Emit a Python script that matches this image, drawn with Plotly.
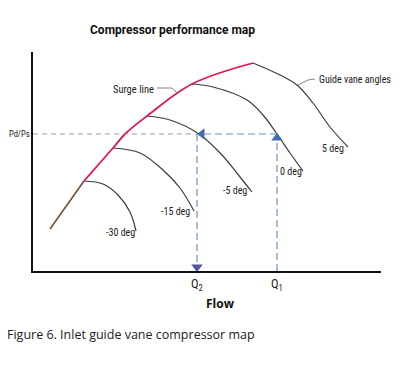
import plotly.graph_objects as go

# ---- data (Flow units, pressure-ratio units; schematic map) ----
surge_brown_x = [17, 51]
surge_brown_y = [42, 90]
surge_red_x = [51, 80, 92, 114, 159, 220]
surge_red_y = [90, 123, 137, 155, 187, 208]

vane_labels = ["-30 deg", "-15 deg", "-5 deg", "0 deg", "5 deg"]
vane_x = [
    [51, 70, 85, 97, 103],
    [80, 107, 130, 147, 161],
    [114, 137, 166, 189, 207, 219],
    [159, 180, 214, 230, 244, 257, 270],
    [220, 247, 264, 280, 297, 315],
]
vane_y = [
    [90, 87, 76, 59, 40],
    [123, 118, 101, 83, 60],
    [155, 151, 137, 116, 94, 79],
    [187, 184, 171, 156, 137, 118, 100],
    [208, 196, 186, 168, 144, 124],
]
vane_label_x = [87, 142, 202, 258, 300]
vane_label_y = [39, 60, 81, 100, 123]

Q1 = 244
Q2 = 164
PdPs = 137
x_ticks = [Q2, Q1]
x_ticktext = ["Q<sub>2</sub>", "Q<sub>1</sub>"]

X_RANGE = [0, 348]
Y_RANGE = [0, 219]

DARK = "#3c3c3c"
RED = "#e0164a"
BROWN = "#7a4a35"
BLUE = "#3f6fae"
BLUE_DASH = "#6f8fc4"
NAVY = "#5353a6"
GRAY = "#9a9a9a"


def px_(x):
    return (x - X_RANGE[0]) / (X_RANGE[1] - X_RANGE[0])


def py_(y):
    return (y - Y_RANGE[0]) / (Y_RANGE[1] - Y_RANGE[0])


fig = go.Figure()

# vane curves
for xs, ys in zip(vane_x, vane_y):
    fig.add_trace(go.Scatter(x=xs, y=ys, mode="lines",
                             line=dict(color=DARK, width=1.2, shape="spline"),
                             hoverinfo="skip"))

# surge line
fig.add_trace(go.Scatter(x=surge_brown_x, y=surge_brown_y, mode="lines",
                         line=dict(color=BROWN, width=1.6), hoverinfo="skip"))
fig.add_trace(go.Scatter(x=surge_red_x, y=surge_red_y, mode="lines",
                         line=dict(color=RED, width=1.8, shape="spline"),
                         hoverinfo="skip"))

# Pd/Ps gray dashed reference
fig.add_trace(go.Scatter(x=[0, Q2], y=[PdPs, PdPs], mode="lines",
                         line=dict(color=GRAY, width=1, dash="5px,4px"),
                         hoverinfo="skip"))
# blue dashed arrows
fig.add_trace(go.Scatter(x=[Q1, Q2 + 8], y=[PdPs, PdPs], mode="lines",
                         line=dict(color=BLUE_DASH, width=1.2, dash="7px,4px"),
                         hoverinfo="skip"))
fig.add_trace(go.Scatter(x=[Q1, Q1], y=[0, PdPs - 8], mode="lines",
                         line=dict(color=BLUE_DASH, width=1.2, dash="7px,4px"),
                         hoverinfo="skip"))
fig.add_trace(go.Scatter(x=[Q2, Q2], y=[PdPs, 8], mode="lines",
                         line=dict(color=BLUE_DASH, width=1.2, dash="7px,4px"),
                         hoverinfo="skip"))
# arrowheads
fig.add_trace(go.Scatter(x=[Q2 + 5], y=[PdPs], mode="markers",
                         marker=dict(symbol="triangle-left", size=10, color=BLUE),
                         hoverinfo="skip"))
fig.add_trace(go.Scatter(x=[Q1], y=[PdPs - 4], mode="markers",
                         marker=dict(symbol="triangle-up", size=10, color=BLUE),
                         hoverinfo="skip"))
fig.add_trace(go.Scatter(x=[Q2], y=[4], mode="markers",
                         marker=dict(symbol="triangle-down", size=10, color=NAVY),
                         hoverinfo="skip"))

# leader lines
fig.add_trace(go.Scatter(x=[124, 139, 145], y=[183, 183, 177], mode="lines",
                         line=dict(color="#777777", width=0.9), hoverinfo="skip"))
fig.add_trace(go.Scatter(x=[265, 275, 282], y=[186, 191, 192], mode="lines",
                         line=dict(color="#777777", width=0.9), hoverinfo="skip"))

NARROW = "Liberation Sans Narrow, Arial Narrow, Roboto Condensed, sans-serif"
anns = []
for lx, ly, t in zip(vane_label_x, vane_label_y, vane_labels):
    anns.append(dict(x=lx, y=ly, text=t, showarrow=False, xref="x", yref="y",
                     font=dict(family=NARROW, size=10, color="#222")))
anns.append(dict(x=100, y=182, text="Surge line", showarrow=False, xref="x", yref="y",
                 font=dict(family=NARROW, size=10.5, color="#222")))
anns.append(dict(x=284, y=192, text="Guide vane angles", showarrow=False, xanchor="left",
                 xref="x", yref="y",
                 font=dict(family=NARROW, size=10, color="#222")))
anns.append(dict(x=px_(-26), y=PdPs, text="Pd/Ps", showarrow=False, xanchor="left",
                 xref="paper", yref="y",
                 font=dict(family=NARROW, size=8.5, color="#222")))
anns.append(dict(x=px_(139), y=py_(241), text="<b>Compressor performance map</b>",
                 showarrow=False, xref="paper", yref="paper",
                 xanchor="center", yanchor="middle",
                 font=dict(family="Roboto, sans-serif", size=12, color="#111")))
anns.append(dict(x=px_(187), y=py_(-32), text="<b>Flow</b>", showarrow=False,
                 xref="paper", yref="paper", xanchor="center", yanchor="middle",
                 font=dict(family="Open Sans, sans-serif", size=12, color="#111")))
anns.append(dict(x=px_(-28), y=py_(-63), text="Figure 6. Inlet guide vane compressor map",
                 showarrow=False, xanchor="left", yanchor="middle",
                 xref="paper", yref="paper",
                 font=dict(family="Open Sans, sans-serif", size=12.5, color="#222")))

# page body has an 8px default margin: compensate so the plot lands in place
fig.update_layout(
    width=392, height=358,
    margin=dict(l=25, r=19, t=44, b=95),
    paper_bgcolor="white", plot_bgcolor="white",
    showlegend=False,
    annotations=anns,
    xaxis=dict(range=X_RANGE, showgrid=False, zeroline=False, showline=True,
               linecolor="#111", linewidth=2, tickvals=x_ticks, ticktext=x_ticktext,
               ticks="", tickfont=dict(family=NARROW, size=12.5, color="#222"),
               fixedrange=True),
    yaxis=dict(range=Y_RANGE, showgrid=False, zeroline=False, showline=True,
               linecolor="#111", linewidth=2, showticklabels=False, ticks="",
               fixedrange=True),
)

fig.write_html("out.html")
